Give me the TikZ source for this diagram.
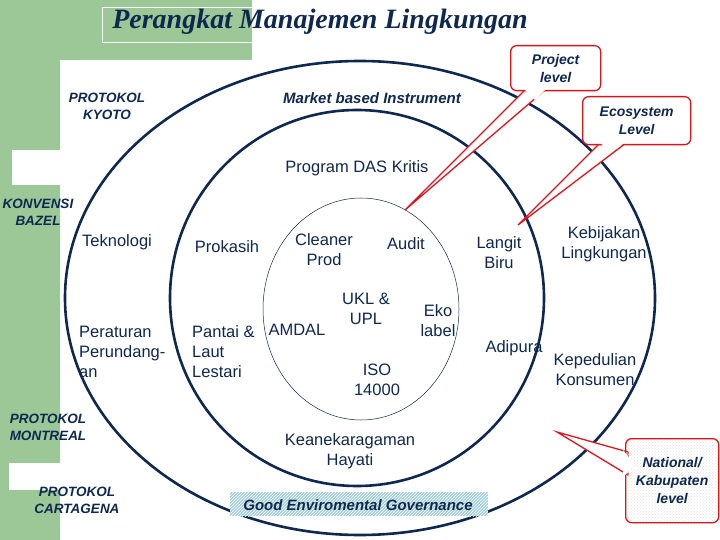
\documentclass[tikz,border=0pt]{standalone}
\usepackage{fontspec}
\setmainfont{Liberation Sans}
\newfontfamily\titlefont{Liberation Serif}
\usetikzlibrary{patterns}
\definecolor{navy}{RGB}{15,40,80}
\definecolor{gr}{RGB}{155,200,150}
\definecolor{rd}{RGB}{220,20,30}
\begin{document}
\begin{tikzpicture}[x=1pt,y=-1pt,
 lab/.style={font=\fontsize{16.5}{20}\selectfont,text=navy,align=center,inner sep=0},
 itl/.style={font=\fontsize{15}{19}\selectfont\bfseries\itshape,text=navy,align=center,inner sep=0},
 sitl/.style={font=\fontsize{13.5}{17}\selectfont\bfseries\itshape,text=navy,align=center,inner sep=0},
 call/.style={draw=rd,line width=1.3pt,fill=white,rounded corners=6pt,font=\fontsize{14}{18}\selectfont\bfseries\itshape,text=navy,align=center}]
\useasboundingbox (0,0) rectangle (720,540);
\fill[white] (0,0) rectangle (720,540);
\fill[gr] (0,0) rectangle (60,540);
\fill[gr] (0,0) rectangle (252,60);
\fill[white] (60,80) arc (180:270:20) -- (252,60) -- (252,540) -- (60,540) -- cycle;
\fill[white] (12,150) rectangle (60,185);
\fill[white] (9,463) rectangle (60,490);
\node[draw=white,line width=0.6pt,minimum width=150pt,minimum height=35pt,anchor=north west] (tb) at (102,7) {};
\node[font=\fontsize{28}{30}\selectfont\titlefont\itshape\bfseries,text=navy,inner sep=0] (title) at (320,22) {Perangkat Manajemen Lingkungan};
% ellipses
\draw[navy,line width=2.6pt] (360,298) ellipse (295 and 237);
\draw[navy,line width=2.6pt] (357,298) ellipse (187 and 188);
\draw[navy,line width=0.5pt] (361,309) ellipse (98 and 111);
% texts
\node[sitl] (kyoto) at (107,106) {PROTOKOL\\KYOTO};
\node[itl] (mbi) at (372,98) {Market based Instrument};
\node[lab] (das) at (357,168) {Program DAS Kritis};
\node[sitl] (bazel) at (38,212) {KONVENSI\\BAZEL};
\node[lab] (tek) at (117,242) {Teknologi};
\node[lab] (prok) at (227,247) {Prokasih};
\node[lab] (clean) at (324,250) {Cleaner\\Prod};
\node[lab] (audit) at (406,244) {Audit};
\node[lab] (langit) at (499,253) {Langit\\Biru};
\node[lab] (kebij) at (604,244) {Kebijakan\\Lingkungan};
\node[lab,align=left,anchor=west] (perat) at (79,352) {Peraturan\\Perundang-\\an};
\node[lab,align=left,anchor=west] (pantai) at (192,352) {Pantai \&\\Laut\\Lestari};
\node[lab] (amdal) at (297,330) {AMDAL};
\node[lab] (ukl) at (366,309) {UKL \&\\UPL};
\node[lab] (eko) at (438,321) {Eko\\label};
\node[lab] (adi) at (514,348) {Adipura};
\node[lab] (kep) at (595,370) {Kepedulian\\Konsumen};
\node[lab] (iso) at (377,380) {ISO\\14000};
\node[sitl] (mont) at (48,427) {PROTOKOL\\MONTREAL};
\node[lab] (kean) at (350,451) {Keanekaragaman\\Hayati};
\node[sitl] (cart) at (77,500) {PROTOKOL\\CARTAGENA};
\fill[cyan!35!teal!40] (230,492) rectangle (488,516);
\fill[pattern=north east lines,pattern color=white] (230,492) rectangle (488,516);
\node[itl] (geg) at (358,505) {Good Enviromental Governance};
% callouts
\coordinate (t1) at (405,210);
\coordinate (t2) at (518,225);
\coordinate (t3) at (557,432);
\fill[white,draw=rd,line width=1.3pt] (525,90) -- (t1) -- (545,90) -- cycle;
\fill[white,draw=rd,line width=1.3pt] (600,143) -- (t2) -- (626,143) -- cycle;
\fill[white,draw=rd,line width=1.3pt] (628,452) -- (t3) -- (628,475) -- cycle;
\node[call,minimum width=90pt,minimum height=45pt,anchor=north west] (pl) at (510,45) {Project\\level};
\node[call,minimum width=108pt,minimum height=48pt,anchor=north west] (el) at (582,96) {Ecosystem\\Level};
\node[call,minimum width=93pt,minimum height=84pt,anchor=north west,pattern=crosshatch dots,pattern color=gray!20] (nl) at (625,438) {National/\\Kabupaten\\level};
\fill[white] (523,88) -- (547,88) -- (535,100) -- cycle;
\fill[white] (598,141) -- (628,141) -- (610,152) -- cycle;
\fill[white] (623,450) -- (623,477) -- (635,465) -- cycle;
\end{tikzpicture}
\end{document}
